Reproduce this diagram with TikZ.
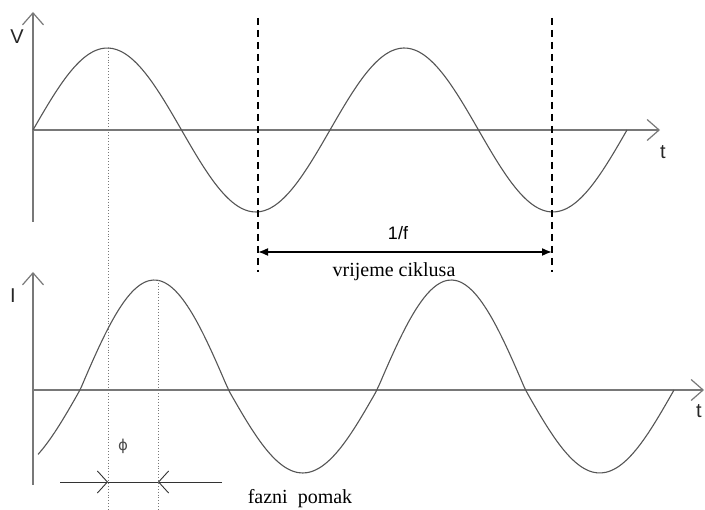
\documentclass[tikz,border=0pt]{standalone}
\usepackage{fontspec}
\setmainfont{Liberation Serif}
\newfontfamily\labelsans{Liberation Sans}
\newfontfamily\greeksans{DejaVu Sans}
\usetikzlibrary{arrows.meta}
\definecolor{curvegrey}{RGB}{85,85,85}
\definecolor{axisgrey}{RGB}{120,120,120}
\tikzset{
  axis/.style={draw=axisgrey,line width=1.8pt,-{Straight Barb[length=12pt,width=21pt,line width=1.2pt]}},
  wave/.style={draw=curvegrey,line width=1.1pt,smooth},
  cycleline/.style={draw=black,line width=2pt,dash pattern=on 7pt off 5pt},
  peakline/.style={draw=axisgrey,line width=0.9pt,dotted},
  span/.style={draw=black,line width=1.6pt,{Latex[length=10pt,width=8pt]}-{Latex[length=10pt,width=8pt]}},
  phasearr/.style={draw=black!80,line width=0.9pt,-{Straight Barb[length=10pt,width=22pt,line width=0.9pt]}},
  axlabel/.style={font=\labelsans\fontsize{20}{20}\selectfont,text=black!85},
  note/.style={font=\fontsize{20}{20}\selectfont}
}
\begin{document}
\begin{tikzpicture}[x=1pt,y=-1pt]
  \useasboundingbox (0,0) rectangle (705,510);

  % top plot: voltage
  \coordinate (vorig) at (33,130);
  \coordinate (vbot) at (33,222);
  \coordinate (vtop) at (33,12);
  \coordinate (vend) at (660,130);
  \draw[axis] (vbot) -- (vtop);
  \draw[axis] (vorig) -- (vend);
  \node[axlabel] (vlab) at (17,37) {V};
  \node[axlabel] (tlab1) at (663,152) {t};
  \draw[wave] plot[domain=33:627,samples=150] (\x,{130-82*sin(1.21212*(\x-33))});

  % one cycle
  \coordinate (trough1) at (258,212);
  \coordinate (trough2) at (552,212);
  \draw[cycleline] (258,18) -- (258,272);
  \draw[cycleline] (552,18) -- (552,272);
  \coordinate (spanl) at (258,252);
  \coordinate (spanr) at (552,252);
  \draw[span] (spanl) -- (spanr);
  \node[axlabel,font=\labelsans\fontsize{18}{18}\selectfont,text=black] (freq) at (398,233) {1/f};
  \node[note] (cycle) at (394,272) {vrijeme ciklusa};

  % bottom plot: current
  \coordinate (iorig) at (33,390);
  \coordinate (ibot) at (33,485);
  \coordinate (itop) at (33,272);
  \coordinate (iend) at (704,390);
  \draw[axis] (ibot) -- (itop);
  \draw[axis] (iorig) -- (iend);
  \node[axlabel] (ilab) at (13,296) {I};
  \node[axlabel] (tlab2) at (699,411) {t};
  \draw[wave] plot[domain=38:674,samples=150]
    (\x,{390-96.5*sin(1.21212*(\x-80))-13.5*abs(sin(1.21212*(\x-80)))});

  % phase shift
  \coordinate (vpeak) at (108,48);
  \coordinate (ipeak) at (158,280);
  \draw[peakline] (vpeak) -- (108,510);
  \draw[peakline] (ipeak) -- (158,510);
  \coordinate (phl) at (60,482);
  \coordinate (phr) at (222,482);
  \draw[draw=black!80,line width=0.9pt] (108,482) -- (158,482);
  \draw[phasearr] (phl) -- (108,482);
  \draw[phasearr] (phr) -- (158,482);
  \node[font=\greeksans\fontsize{15}{15}\selectfont,text=black!70] (phi) at (123,446) {ϕ};
  \node[note] (shift) at (300,499) {fazni\ \ pomak};
\end{tikzpicture}
\end{document}
